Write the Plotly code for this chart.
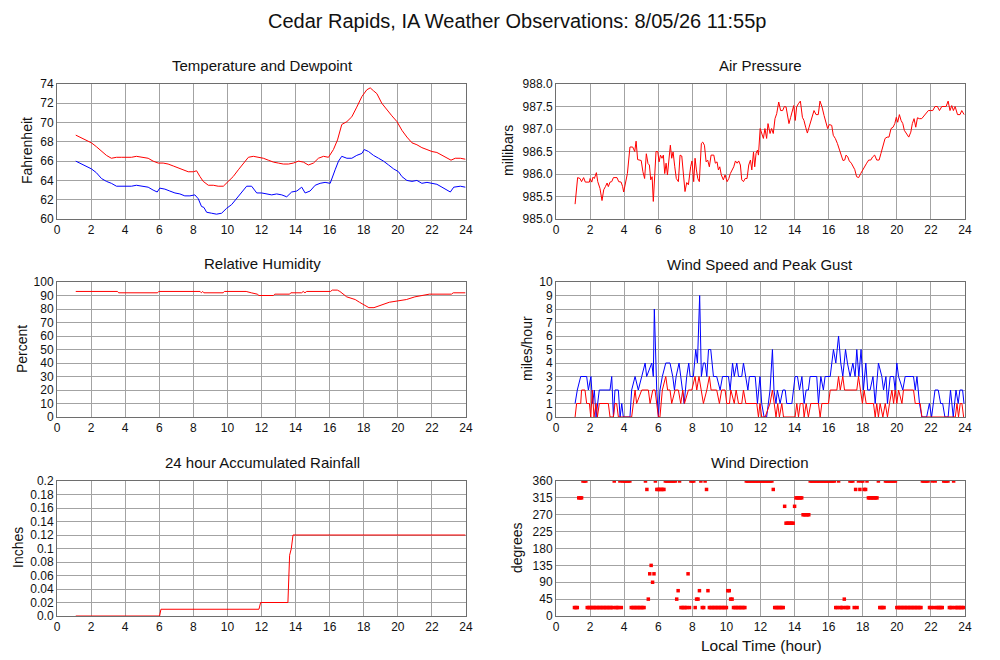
import plotly.graph_objects as go

# ---- data read from the station page ----
temp_hr = [1.10, 1.43, 1.72, 2.02, 2.31, 2.61, 2.90, 3.19, 3.49, 3.78, 4.08, 4.37, 4.66, 4.96, 5.35,
           5.64, 5.94, 6.23, 6.52, 6.82, 7.11, 7.41, 7.70, 8.00, 8.19, 8.39, 8.58, 8.88, 9.17, 9.46,
           9.76, 10.05, 10.34, 10.64, 10.93, 11.23, 11.52, 11.81, 12.11, 12.40, 12.70, 12.99, 13.28,
           13.58, 13.87, 14.17, 14.46, 14.75, 15.05, 15.34, 15.64, 15.93, 16.22, 16.46, 16.71, 17.01,
           17.30, 17.59, 17.89, 18.18, 18.38, 18.57, 18.77, 19.06, 19.36, 19.65, 19.95, 20.24, 20.53,
           20.83, 21.12, 21.41, 21.71, 22.00, 22.29, 22.59, 22.88, 23.12, 23.37, 23.67, 23.96]
temp_f = [68.7, 68.4, 68.2, 67.9, 67.5, 67.0, 66.6, 66.3, 66.4, 66.4, 66.4, 66.4, 66.5, 66.4, 66.3,
          66.0, 65.8, 65.8, 65.7, 65.5, 65.3, 65.1, 64.9, 64.9, 65.0, 64.4, 63.9, 63.5, 63.5, 63.4,
          63.4, 63.9, 64.4, 65.1, 65.8, 66.4, 66.5, 66.4, 66.3, 66.1, 65.9, 65.8, 65.7,
          65.7, 65.8, 66.0, 65.9, 65.6, 65.8, 66.3, 66.5, 66.4, 67.2, 68.2, 69.8, 70.1,
          70.6, 71.6, 72.7, 73.4, 73.6, 73.3, 73.0, 72.0, 71.3, 70.7, 70.1, 69.2, 68.5,
          67.9, 67.7, 67.4, 67.2, 67.0, 66.9, 66.6, 66.3, 66.1, 66.3, 66.3, 66.2]

dewp_hr = [1.10, 1.43, 1.72, 2.02, 2.31, 2.61, 2.90, 3.19, 3.49, 3.78, 4.08, 4.37, 4.66, 4.96, 5.35,
           5.64, 5.88, 6.03, 6.33, 6.62, 6.92, 7.21, 7.50, 7.80, 8.09, 8.29, 8.48, 8.62, 8.78, 9.07,
           9.36, 9.66, 9.95, 10.25, 10.54, 10.83, 11.13, 11.42, 11.72, 12.01, 12.30, 12.60, 12.89,
           13.19, 13.48, 13.77, 14.07, 14.36, 14.56, 14.85, 15.15, 15.44, 15.73, 16.03, 16.32, 16.52,
           16.71, 17.01, 17.30, 17.59, 17.89, 18.03, 18.28, 18.57, 18.87, 19.16, 19.46, 19.75, 20.04,
           20.24, 20.53, 20.83, 21.12, 21.41, 21.71, 22.00, 22.29, 22.59, 22.88, 23.08, 23.28, 23.67, 23.96]
dewp_f = [66.0, 65.7, 65.4, 65.2, 64.8, 64.2, 63.9, 63.7, 63.4, 63.4, 63.4, 63.4, 63.5, 63.4, 63.3,
          63.0, 62.8, 63.2, 63.1, 62.9, 62.7, 62.6, 62.4, 62.4, 62.5, 62.1, 61.3, 61.2, 60.7, 60.6,
          60.5, 60.6, 61.1, 61.5, 62.1, 62.7, 63.4, 63.4, 62.7, 62.7, 62.6, 62.5, 62.6,
          62.5, 62.3, 62.8, 62.9, 63.3, 62.7, 62.9, 63.5, 63.7, 63.8, 63.7, 65.1, 66.0,
          66.5, 66.3, 66.3, 66.6, 66.8, 67.2, 67.0, 66.6, 66.3, 66.0, 65.6, 65.2, 64.9,
          64.4, 64.0, 63.9, 64.0, 63.7, 63.8, 63.7, 63.6, 63.3, 63.0, 62.8, 63.3, 63.4, 63.3]

pres_hr = [1.12, 1.27, 1.41, 1.50, 1.62, 1.72, 1.96, 2.00, 2.10, 2.17, 2.25, 2.37, 2.45, 2.58, 2.70,
           2.80, 2.90, 3.00, 3.07, 3.17, 3.27, 3.37, 3.58, 3.68, 3.82, 3.91, 3.97, 4.07, 4.19, 4.34,
           4.50, 4.62, 4.70, 4.79, 5.00, 5.10, 5.20, 5.30, 5.40, 5.48, 5.56, 5.64, 5.71, 5.87, 5.97,
           6.05, 6.13, 6.22, 6.30, 6.38, 6.46, 6.54, 6.61, 6.71, 6.79, 6.87, 6.97, 7.06, 7.18, 7.28,
           7.38, 7.48, 7.57, 7.67, 7.77, 7.90, 7.98, 8.08, 8.16, 8.24, 8.32, 8.41, 8.53, 8.61, 8.71,
           8.81, 8.90, 9.00, 9.10, 9.26, 9.35, 9.45, 9.53, 9.61, 9.70, 9.82, 9.92, 10.04, 10.14, 10.23,
           10.33, 10.43, 10.53, 10.63, 10.72, 10.82, 10.90, 11.00, 11.10, 11.21, 11.31, 11.41, 11.49,
           11.59, 11.66, 11.74, 11.82, 11.88, 11.98, 12.07, 12.17, 12.26, 12.36, 12.44, 12.56, 12.65,
           12.75, 12.85, 12.95, 13.07, 13.18, 13.30, 13.40, 13.50, 13.57, 13.67, 13.77, 13.87, 13.95,
           14.04, 14.12, 14.22, 14.34, 14.46, 14.55, 14.65, 14.75, 14.85, 14.94, 15.04, 15.14, 15.26,
           15.39, 15.49, 15.61, 15.73, 15.82, 15.94, 16.04, 16.18, 16.27, 16.39, 16.51, 16.63, 16.74,
           16.84, 16.94, 17.02, 17.12, 17.21, 17.33, 17.43, 17.53, 17.64, 17.76, 17.88, 17.99, 18.11,
           18.23, 18.35, 18.47, 18.58, 18.70, 18.82, 18.96, 19.07, 19.19, 19.31, 19.43, 19.54, 19.66,
           19.78, 19.88, 19.97, 20.05, 20.15, 20.25, 20.35, 20.44, 20.58, 20.70, 20.82, 20.91, 21.01,
           21.11, 21.21, 21.32, 21.46, 21.60, 21.72, 21.85, 21.99, 22.11, 22.24, 22.38, 22.50, 22.64,
           22.77, 22.89, 23.01, 23.12, 23.22, 23.32, 23.42, 23.56, 23.71, 23.81, 23.95]
pres_mb = [985.33, 985.92, 985.90, 985.83, 985.92, 985.82, 985.82, 985.90, 985.82, 985.93, 985.90, 986.03, 985.83, 985.68, 985.41,
           985.65, 985.72, 985.80, 985.72, 985.82, 985.83, 985.92, 985.92, 985.83, 985.82, 985.72, 985.60, 985.82, 986.01, 986.60,
           986.60, 986.50, 986.73, 986.32, 986.30, 986.05, 985.90, 986.45, 986.23, 986.20, 985.87, 985.94, 985.39, 986.50, 986.50,
           986.27, 986.42, 986.35, 986.42, 986.01, 986.24, 985.98, 986.29, 986.64, 986.35, 986.49, 986.16, 985.90, 985.83, 986.42,
           986.40, 985.98, 985.61, 985.81, 985.76, 986.16, 986.29, 985.83, 986.35, 986.09, 985.90, 985.83, 986.68, 986.71, 986.64,
           986.27, 986.31, 986.16, 986.42, 986.42, 986.24, 986.27, 986.09, 986.16, 985.98, 985.87, 985.98, 985.83, 985.90, 986.01,
           986.09, 986.16, 986.29, 986.24, 986.29, 986.20, 985.87, 985.83, 985.90, 985.90, 986.20, 986.31, 986.09,
           986.49, 986.16, 986.46, 986.53, 986.42, 987.01, 986.90, 986.79, 987.01, 986.79, 987.12, 986.90, 987.01,
           986.90, 987.23, 987.34, 987.60, 987.41, 987.41, 987.50, 987.49, 987.30, 987.12, 987.26, 987.41, 987.52,
           987.19, 987.49, 987.56, 987.62, 987.26, 987.19, 987.04, 986.91, 987.04, 987.15, 987.26, 987.41, 987.32,
           987.32, 987.62, 987.49, 987.30, 987.19, 987.01, 987.10, 987.08, 986.86, 986.79, 986.68, 986.53, 986.38,
           986.30, 986.31, 986.42, 986.38, 986.29, 986.24, 986.16, 986.10, 985.94, 985.92, 986.01, 986.09, 986.16,
           986.24, 986.31, 986.31, 986.38, 986.42, 986.31, 986.31, 986.46, 986.64, 986.79, 986.82, 986.82, 987.01,
           987.04, 987.12, 987.26, 987.15, 987.32, 987.19, 987.12, 986.97, 986.90, 986.82, 986.93, 987.12, 987.23,
           987.04, 987.25, 987.23, 987.23, 987.30, 987.34, 987.41, 987.41, 987.41, 987.50, 987.50, 987.41, 987.50,
           987.50, 987.50, 987.62, 987.41, 987.52, 987.41, 987.50, 987.32, 987.32, 987.41, 987.32]

rh_hr = [1.10, 3.55, 3.62, 5.90, 5.97, 8.40, 8.47, 8.55, 8.62, 9.75, 9.82, 11.10, 11.40, 11.75, 11.85,
         12.70, 12.78, 13.65, 13.72, 14.35, 14.45, 14.55, 14.65, 16.05, 16.15, 16.45, 16.60, 16.80, 17.00,
         17.25, 17.50, 17.75, 18.00, 18.30, 18.60, 19.00, 19.50, 20.00, 20.50, 21.00, 21.50, 21.85, 23.15,
         23.25, 23.96]
rh_pct = [93, 93, 92, 92, 93, 93, 92, 93, 92, 92, 93, 93, 92, 91, 90,
          90, 91, 91, 92, 92, 93, 92, 93, 93, 94, 94, 93, 91, 89,
          88, 87, 85, 83, 81, 81, 83, 85, 86, 87, 89, 90, 91, 91,
          92, 92]

rain_hr = [1.10, 6.02, 6.10, 11.85, 11.95, 13.55, 13.65, 13.75, 13.85, 23.96]
rain_in = [0.0, 0.0, 0.01, 0.01, 0.02, 0.02, 0.09, 0.10, 0.12, 0.12]

gust_hr = [1.12, 1.25, 1.45, 1.80, 1.90, 2.05, 2.15, 2.25, 2.35, 2.43, 2.54, 3.17, 3.27, 3.37, 3.46,
           3.66, 3.76, 3.86, 3.95, 4.34, 4.44, 4.64, 4.83, 5.03, 5.23, 5.32, 5.62, 5.71, 5.77, 5.91,
           6.01, 6.10, 6.24, 6.44, 6.69, 6.85, 6.95, 7.05, 7.22, 7.32, 7.42, 7.52, 7.67, 7.79, 7.87,
           8.06, 8.20, 8.30, 8.43, 8.53, 8.65, 8.75, 8.85, 8.95, 9.08, 9.24, 9.43, 9.63, 9.77, 10.12,
           10.22, 10.36, 10.46, 10.61, 10.71, 10.90, 11.00, 11.14, 11.26, 11.35, 11.69, 11.82, 11.97,
           12.07, 12.21, 12.36, 12.56, 12.70, 12.79, 12.91, 12.99, 13.15, 13.31, 13.45, 13.54, 13.84,
           14.03, 14.17, 14.29, 14.43, 14.56, 14.68, 14.81, 14.91, 15.30, 15.40, 15.54, 15.69, 15.79,
           16.09, 16.28, 16.42, 16.58, 16.71, 16.83, 16.99, 17.10, 17.26, 17.42, 17.55, 17.65, 17.77,
           17.90, 18.04, 18.18, 18.29, 18.43, 18.60, 18.73, 18.92, 19.12, 19.22, 19.36, 19.45, 19.61,
           19.81, 19.90, 20.00, 20.10, 20.35, 20.49, 20.88, 20.98, 21.08, 21.18, 21.33, 21.47, 21.75,
           21.91, 22.04, 22.14, 22.24, 22.43, 22.57, 22.69, 22.82, 23.01, 23.15, 23.31, 23.47, 23.60,
           23.70, 23.86, 23.94]
gust_mph = [1, 2, 3, 3, 2, 3, 1, 2, 0, 1, 2, 2, 3, 0, 2,
            2, 0, 1, 0, 0, 2, 3, 2, 3, 4, 3, 4, 3, 8, 2,
            0, 2, 3, 4, 4, 3, 2, 3, 4, 3, 2, 1, 3, 4, 3,
            3, 5, 4, 9, 3, 4, 4, 3, 5, 5, 3, 3, 2, 3, 3,
            2, 4, 3, 4, 3, 3, 4, 3, 2, 3, 3, 1, 3,
            1, 0, 0, 2, 5, 2, 1, 2, 1, 2, 2, 1, 1,
            3, 3, 2, 3, 1, 2, 2, 3, 3, 1, 3, 2, 3,
            3, 5, 4, 6, 4, 3, 5, 4, 3, 4, 3, 5, 3,
            5, 2, 4, 2, 2, 3, 1, 4, 3, 2, 3, 1, 3,
            3, 2, 4, 3, 2, 3, 3, 3, 2, 3, 1, 0, 0,
            1, 0, 1, 2, 2, 1, 1, 0, 0, 2, 0, 2, 1,
            2, 2, 1]

wind_hr = [1.12, 1.21, 1.45, 1.50, 1.70, 1.80, 1.96, 2.04, 2.13, 2.23, 2.35, 2.43, 2.54, 3.07, 3.17,
           3.37, 3.46, 3.56, 3.66, 4.44, 4.54, 4.64, 4.73, 5.03, 5.42, 5.52, 5.68, 5.81, 6.01, 6.10,
           6.24, 6.44, 6.55, 6.69, 6.79, 6.99, 7.18, 7.32, 7.44, 7.54, 7.77, 7.97, 8.16, 8.26, 8.39,
           8.51, 8.65, 8.85, 9.00, 9.10, 9.43, 9.59, 9.72, 9.92, 10.02, 10.18, 10.26, 10.46, 10.57,
           10.71, 10.90, 11.00, 11.14, 11.78, 11.88, 11.97, 12.07, 12.27, 12.56, 12.70, 12.81, 12.91,
           13.01, 13.11, 13.25, 13.35, 14.03, 14.13, 14.23, 14.33, 14.49, 14.56, 14.68, 14.81, 14.95,
           15.40, 15.50, 15.60, 15.99, 16.09, 16.48, 16.58, 16.68, 16.83, 16.93, 17.65, 17.75, 17.85,
           17.98, 18.08, 18.20, 18.63, 18.73, 18.82, 18.92, 19.02, 19.18, 19.32, 19.45, 19.57, 19.71,
           19.81, 19.90, 20.00, 20.10, 20.30, 20.39, 20.98, 21.08, 21.37, 21.47, 23.43, 23.53, 23.62,
           23.72, 23.82, 23.92]
wind_mph = [0, 1, 1, 2, 2, 1, 1, 0, 2, 0, 1, 0, 1, 1, 0,
            0, 1, 1, 0, 0, 1, 2, 1, 2, 2, 1, 2, 2, 0, 0,
            2, 3, 2, 2, 1, 2, 2, 1, 2, 1, 2, 2, 3, 2, 3,
            2, 1, 2, 3, 2, 2, 1, 2, 2, 1, 1, 2, 1, 2,
            1, 1, 2, 1, 1, 0, 1, 0, 0, 1, 2, 1, 0,
            1, 0, 1, 0, 0, 1, 0, 1, 1, 0, 1, 0, 1,
            1, 0, 1, 1, 2, 2, 3, 2, 3, 2, 2, 3, 2,
            1, 2, 1, 1, 0, 1, 0, 1, 0, 1, 0, 1, 2,
            1, 2, 1, 2, 1, 2, 2, 1, 1, 0, 0, 1, 0,
            1, 1, 0]

# wind direction, one reading every 5 minutes from 1:05 to 23:55
dir_deg = [
    22.5, 22.5, 22.5, 315, 315, 315, 360, 360, 360, 22.5, 22.5, 22.5,
    22.5, 22.5, 22.5, 22.5, 22.5, 22.5, 22.5, 22.5, 22.5, 22.5, 22.5, 22.5,
    22.5, 22.5, 22.5, 22.5, 360, 22.5, 22.5, 22.5, 360, 22.5, 360, 360,
    360, 360, 360, 360, 22.5, 22.5, 22.5, 22.5, 22.5, 22.5, 22.5, 22.5,
    22.5, 22.5, 360, 337.5, 45, 112.5, 135, 90, 112.5, 360, 337.5, 337.5,
    337.5, 337.5, 337.5, 337.5, 360, 360, 360, 360, 360, 360, 360, 360,
    45, 67.5, 360, 22.5, 22.5, 22.5, 22.5, 22.5, 112.5, 22.5, 360, 360,
    360, 22.5, 45, 45, 67.5, 360, 22.5, 22.5, 360, 337.5, 67.5, 22.5,
    22.5, 22.5, 22.5, 22.5, 22.5, 22.5, 22.5, 22.5, 22.5, 22.5, 22.5, 22.5,
    67.5, 67.5, 45, 45, 22.5, 22.5, 22.5, 22.5, 22.5, 22.5, 22.5, 22.5,
    22.5, 360, 360, 360, 360, 360, 360, 360, 360, 360, 360, 360,
    360, 360, 360, 360, 360, 360, 360, 360, 337.5, 22.5, 22.5, 22.5,
    22.5, 22.5, 22.5, 22.5, 292.5, 247.5, 247.5, 247.5, 247.5, 247.5, 247.5, 292.5,
    315, 315, 315, 315, 315, 270, 270, 270, 270, 270, 360, 360,
    360, 360, 360, 360, 360, 360, 360, 360, 360, 360, 360, 360,
    360, 360, 360, 360, 22.5, 22.5, 360, 22.5, 22.5, 22.5, 45, 22.5,
    22.5, 22.5, 360, 360, 360, 22.5, 337.5, 22.5, 360, 337.5, 360, 360,
    337.5, 337.5, 360, 315, 315, 315, 315, 315, 315, 315, 360, 22.5,
    22.5, 22.5, 22.5, 360, 360, 360, 360, 360, 360, 360, 360, 22.5,
    22.5, 22.5, 22.5, 22.5, 22.5, 22.5, 22.5, 22.5, 22.5, 22.5, 22.5, 22.5,
    22.5, 22.5, 22.5, 22.5, 22.5, 360, 360, 360, 360, 360, 22.5, 22.5,
    360, 22.5, 360, 22.5, 22.5, 22.5, 22.5, 22.5, 360, 360, 360, 360,
    22.5, 22.5, 22.5, 360, 22.5, 22.5, 22.5, 22.5, 22.5, 22.5, 22.5,
]
dir_hr = [round(1 + k / 12, 3) for k in range(1, len(dir_deg) + 1)]

hour_ticks = list(range(0, 25, 2))
rain_ticks = [0, 0.02, 0.04, 0.06, 0.08, 0.1, 0.12, 0.14, 0.16, 0.18, 0.2]
rain_labels = ["0.0", "0.02", "0.04", "0.06", "0.08", "0.1", "0.12", "0.14", "0.16", "0.18", "0.2"]
dir_ticks = [0, 45, 90, 135, 180, 225, 270, 315, 360]

RED = "#ff0000"
BLUE = "#0000ff"
FONT = "Liberation Sans, Arial, sans-serif"

fig = go.Figure()


def line(x, y, color, n):
    fig.add_trace(go.Scatter(x=x, y=y, mode="lines", line=dict(color=color, width=1),
                             xaxis="x" + n, yaxis="y" + n, hoverinfo="skip"))


line(temp_hr, temp_f, RED, "1")
line(dewp_hr, dewp_f, BLUE, "1")
line(pres_hr, pres_mb, RED, "2")
line(rh_hr, rh_pct, RED, "3")
line(gust_hr, gust_mph, BLUE, "4")
line(wind_hr, wind_mph, RED, "4")
line(rain_hr, rain_in, RED, "5")
fig.add_trace(go.Scatter(x=dir_hr, y=dir_deg, mode="markers",
                         marker=dict(color=RED, size=3.5, symbol="square", line=dict(width=0)),
                         xaxis="x6", yaxis="y6", hoverinfo="skip"))

# page pixels (window coords); the html body adds an 8px margin, so shift back
W, H = 1000, 660
OFF = 8


def px(x):
    return (x - OFF) / W


def py(y):
    return 1 - (y - OFF) / H


left_col = (57, 466)
right_col = (556, 965)
rows = [(84, 219), (282, 417), (481, 616)]

base = dict(showgrid=True, gridcolor="#a3a3a3", gridwidth=1, showline=True, mirror=True,
            linecolor="#6e6e6e", linewidth=1, zeroline=False, ticks="", automargin=False,
            tickfont=dict(family=FONT, size=12, color="#111"), fixedrange=True)

yspecs = [
    dict(range=[60, 74], tickvals=list(range(60, 75, 2))),
    dict(range=[985, 988], tickvals=[985, 985.5, 986, 986.5, 987, 987.5, 988], tickformat=".1f"),
    dict(range=[0, 100], tickvals=list(range(0, 101, 10))),
    dict(range=[0, 10], tickvals=list(range(0, 11))),
    dict(range=[0, 0.2], tickvals=rain_ticks, ticktext=rain_labels),
    dict(range=[0, 360], tickvals=dir_ticks),
]

layout_axes = {}
for i in range(6):
    r, c = divmod(i, 2)
    cx = left_col if c == 0 else right_col
    top, bot = rows[r]
    n = "" if i == 0 else str(i + 1)
    layout_axes["xaxis" + n] = dict(base, domain=[px(cx[0]), px(cx[1])], range=[0, 24],
                                    tickvals=hour_ticks, anchor="y" + str(i + 1))
    layout_axes["yaxis" + n] = dict(base, domain=[py(bot), py(top)],
                                    anchor="x" + str(i + 1), **yspecs[i])

fig.update_layout(**layout_axes)

titles = [
    ("Temperature and Dewpoint", 262, 65), ("Air Pressure", 760, 65),
    ("Relative Humidity", 262, 263), ("Wind Speed and Peak Gust", 760, 264),
    ("24 hour Accumulated Rainfall", 262, 462), ("Wind Direction", 760, 462),
]
ylabels = [
    ("Fahrenheit", 27, 151), ("millibars", 508, 151),
    ("Percent", 22, 349), ("miles/hour", 527, 349),
    ("Inches", 18, 548), ("degrees", 517, 548),
]
ann = [dict(text="Cedar Rapids, IA Weather Observations: 8/05/26 11:55p", x=px(517), y=py(21),
            font=dict(family=FONT, size=20, color="#111"))]
for t, x, y in titles:
    ann.append(dict(text=t, x=px(x), y=py(y), font=dict(family=FONT, size=15, color="#111")))
for t, x, y in ylabels:
    ann.append(dict(text=t, x=px(x), y=py(y), textangle=-90,
                    font=dict(family=FONT, size=14, color="#111")))
ann.append(dict(text="Local Time (hour)", x=px(761), y=py(645),
                font=dict(family=FONT, size=15.5, color="#111")))
for a in ann:
    a.update(xref="paper", yref="paper", showarrow=False, xanchor="center", yanchor="middle")

fig.update_layout(
    width=W, height=H,
    margin=dict(l=0, r=0, t=0, b=0, autoexpand=False),
    paper_bgcolor="white", plot_bgcolor="white",
    showlegend=False,
    annotations=ann,
    font=dict(family=FONT),
)

fig.write_html("out.html")
